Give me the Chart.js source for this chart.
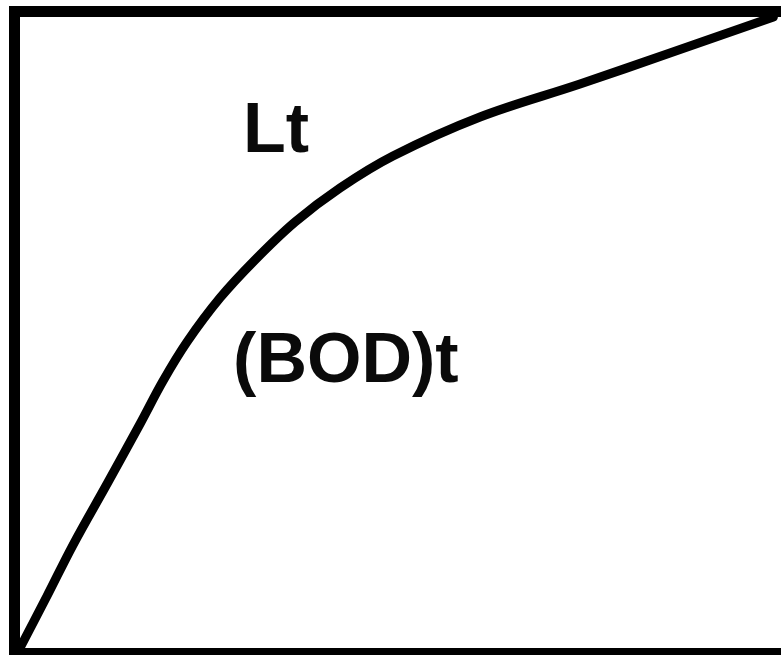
<!DOCTYPE html>
<html>
<head>
<meta charset="utf-8">
<script src="https://cdn.jsdelivr.net/npm/chart.js@4.4.1/dist/chart.umd.min.js"></script>
<style>
  html, body { margin: 0; padding: 0; background: #fff; overflow: hidden; }
  #wrap { width: 781px; height: 655px; }
</style>
</head>
<body>
<div id="wrap"><canvas id="bodChart"></canvas></div>
<script>
// BOD curve, time (x) vs BOD exerted (y), both in % of the box
const timeValues = [0, 3.55, 6.96, 11.43, 15.77, 18.79, 21.94, 26.28, 30.88, 36.14, 42.05, 49.01, 60.45, 73.59, 85.41, 99.0];
const bodValues = [0, 8.24, 16.32, 25.99, 35.5, 42.31, 48.49, 55.47, 61.49, 67.51, 72.9, 77.97, 84.15, 89.38, 94.29, 100];

// text labels and where they sit (same units as the data)
const labelTexts = ["Lt", "(BOD)t"];
const labelX = [29.3, 28.0];
const labelY = [78.6, 42.2];

const points = timeValues.map((t, i) => ({ x: t, y: bodValues[i] }));

// thick frame round the plot area (right side runs off the page)
const framePlugin = {
  id: "frame",
  afterDatasetsDraw(chart) {
    const { ctx, chartArea } = chart;
    ctx.save();
    ctx.strokeStyle = "#000";
    ctx.lineWidth = 11;
    ctx.strokeRect(
      chartArea.left - 5.5,
      chartArea.top - 5.5,
      chartArea.right - chartArea.left + 40,
      chartArea.bottom - chartArea.top + 11
    );
    ctx.restore();
  },
};

const labelPlugin = {
  id: "curveLabels",
  afterDatasetsDraw(chart) {
    const { ctx, scales } = chart;
    ctx.save();
    ctx.fillStyle = "#0a0a0a";
    ctx.font = "bold 70px 'Liberation Sans', Arial, sans-serif";
    ctx.textAlign = "left";
    ctx.textBaseline = "alphabetic";
    labelTexts.forEach((txt, i) => {
      ctx.fillText(txt, scales.x.getPixelForValue(labelX[i]), scales.y.getPixelForValue(labelY[i]));
    });
    ctx.restore();
  },
};

new Chart(document.getElementById("bodChart"), {
  type: "line",
  data: {
    datasets: [
      {
        data: points,
        borderColor: "#000",
        borderWidth: 9,
        borderCapStyle: "round",
        borderJoinStyle: "round",
        pointRadius: 0,
        tension: 0.35,
        fill: false,
        clip: 10,
      },
    ],
  },
  options: {
    responsive: true,
    maintainAspectRatio: false,
    animation: false,
    layout: { padding: { left: 20, top: 17, right: 0, bottom: 7 } },
    scales: {
      x: { type: "linear", min: 0, max: 100, display: false },
      y: { type: "linear", min: 0, max: 100, display: false },
    },
    plugins: {
      legend: { display: false },
      tooltip: { enabled: false },
    },
  },
  plugins: [framePlugin, labelPlugin],
});
</script>
</body>
</html>
